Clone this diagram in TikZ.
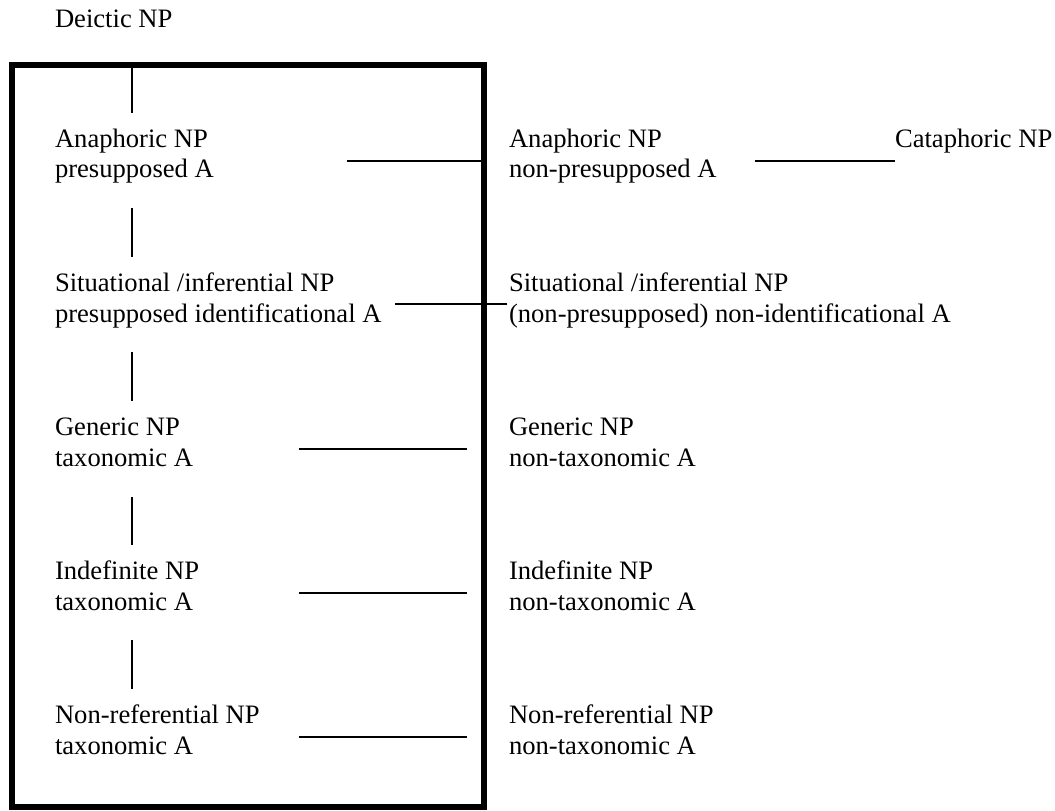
\documentclass[tikz,border=0pt]{standalone}
\usepackage{fontspec}
\setmainfont{Liberation Serif}
\begin{document}
\begin{tikzpicture}[x=0.5pt,y=-0.5pt,
  lbl/.style={anchor=base west, inner sep=0pt, outer sep=0pt, font=\fontsize{13.3}{15.3}\selectfont},
  link/.style={line width=0.85pt},
  frame/.style={line width=3pt}]
\useasboundingbox (0,0) rectangle (1055,810);
% frame
\coordinate (fTL) at (12,65);
\coordinate (fBR) at (484,807);
\draw[frame] (fTL) rectangle (fBR);
% left column
\node[lbl] (deictic) at (55,27) {Deictic NP};
\node[lbl] (anaL1) at (55,147) {Anaphoric NP};
\node[lbl] (anaL2) at (55,177) {presupposed A};
\node[lbl] (sitL1) at (55,291) {Situational /inferential NP};
\node[lbl] (sitL2) at (55,322) {presupposed identificational A};
\node[lbl] (genL1) at (55,435) {Generic NP};
\node[lbl] (genL2) at (55,466) {taxonomic A};
\node[lbl] (indL1) at (55,579) {Indefinite NP};
\node[lbl] (indL2) at (55,610) {taxonomic A};
\node[lbl] (nrL1) at (55,723) {Non-referential NP};
\node[lbl] (nrL2) at (55,754) {taxonomic A};
% right column
\node[lbl] (anaR1) at (509,147) {Anaphoric NP};
\node[lbl] (anaR2) at (509,177) {non-presupposed A};
\node[lbl] (cata) at (895,147) {Cataphoric NP};
\node[lbl] (sitR1) at (509,291) {Situational /inferential NP};
\node[lbl] (sitR2) at (509,322) {(non-presupposed) non-identificational A};
\node[lbl] (genR1) at (509,435) {Generic NP};
\node[lbl] (genR2) at (509,466) {non-taxonomic A};
\node[lbl] (indR1) at (509,579) {Indefinite NP};
\node[lbl] (indR2) at (509,610) {non-taxonomic A};
\node[lbl] (nrR1) at (509,723) {Non-referential NP};
\node[lbl] (nrR2) at (509,754) {non-taxonomic A};
% vertical links
\coordinate (v1a) at (132,66); \coordinate (v1b) at (132,113);
\coordinate (v2a) at (132,208); \coordinate (v2b) at (132,257);
\coordinate (v3a) at (132,352); \coordinate (v3b) at (132,401);
\coordinate (v4a) at (132,497); \coordinate (v4b) at (132,545);
\coordinate (v5a) at (132,640); \coordinate (v5b) at (132,689);
\foreach \i in {1,...,5} {\draw[link] (v\i a) -- (v\i b);}
% horizontal links
\coordinate (h1a) at (347,161); \coordinate (h1b) at (487,161);
\coordinate (h2a) at (395,304); \coordinate (h2b) at (507,304);
\coordinate (h3a) at (299,449); \coordinate (h3b) at (467,449);
\coordinate (h4a) at (299,593); \coordinate (h4b) at (467,593);
\coordinate (h5a) at (299,737); \coordinate (h5b) at (467,737);
\coordinate (h6a) at (755,161); \coordinate (h6b) at (895,161);
\foreach \i in {1,...,6} {\draw[link] (h\i a) -- (h\i b);}
\end{tikzpicture}
\end{document}
